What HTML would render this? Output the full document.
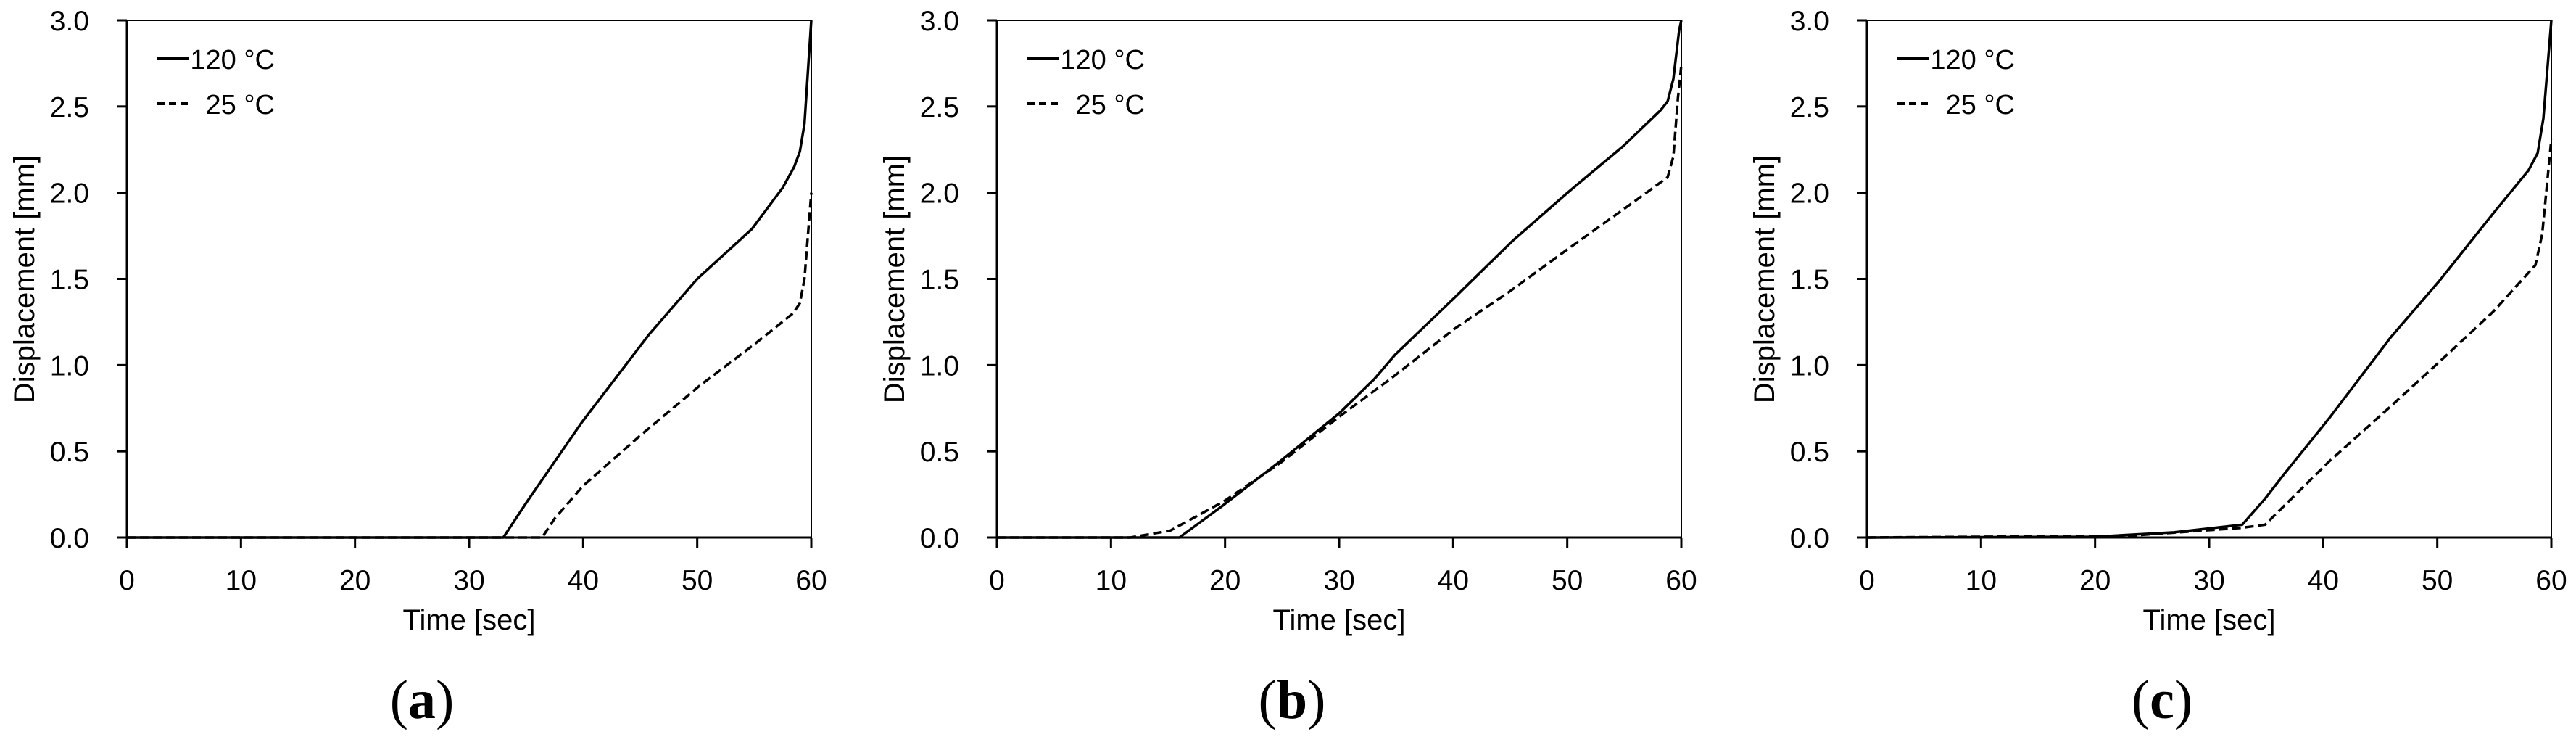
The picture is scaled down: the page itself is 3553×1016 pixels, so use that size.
<!DOCTYPE html>
<html><head><meta charset="utf-8">
<style>
html,body{margin:0;padding:0;background:#fff;}
svg{display:block;}
text{font-family:"Liberation Sans",Arial,sans-serif;fill:#000;}
.cap{font-family:"Liberation Serif","Times New Roman",serif;}
</style></head>
<body>
<svg id="fig" width="3553" height="1016" viewBox="0 0 3553 1016" xmlns="http://www.w3.org/2000/svg"></svg>
<script>
// ---- data ----
const xTicks = [0,10,20,30,40,50,60];
const yTicks = [0.0,0.5,1.0,1.5,2.0,2.5,3.0];
const panelLabels = ["a","b","c"];
const seriesNames = ["120 \u00B0C","25 \u00B0C"];
// panel (a)
const a120T = [0,33,35.1,39.9,45.8,50,54.8,57.5,58.5,59.0,59.4,59.7,60];
const a120V = [0,0,0.21,0.67,1.18,1.5,1.79,2.03,2.15,2.24,2.4,2.7,3.0];
const a25T  = [0,36.4,37.5,40,44.8,50.2,55,58.4,59.0,59.4,59.7,60];
const a25V  = [0,0,0.11,0.30,0.58,0.88,1.12,1.30,1.36,1.5,1.75,2.0];
// panel (b)
const b120T = [0,16,19.9,24.6,30,33.1,34.9,40.1,45.2,50.2,54.9,58.2,58.8,59.3,59.8,60];
const b120V = [0,0,0.19,0.43,0.72,0.92,1.06,1.39,1.72,2.01,2.27,2.48,2.53,2.66,2.94,3.0];
const b25T  = [0,11.7,15.2,19.9,25,30,34.7,40.1,44.8,50.2,55.7,58.8,59.3,59.7,60];
const b25V  = [0,0,0.04,0.21,0.44,0.70,0.93,1.21,1.42,1.68,1.94,2.09,2.21,2.55,2.74];
// panel (c)
const c120T = [0,19.9,26.9,32.9,34.9,36.6,40.5,45.9,50.2,54.9,58,58.8,59.3,60];
const c120V = [0,0.004,0.03,0.074,0.225,0.37,0.69,1.16,1.49,1.88,2.13,2.23,2.43,3.0];
const c25T  = [0,23,32.7,34.9,40.5,45.9,50.2,54.9,58.6,59.2,60];
const c25V  = [0,0.01,0.055,0.074,0.44,0.76,1.02,1.31,1.58,1.76,2.31];

const panels = [
  {x0:175, s120:[a120T,a120V], s25:[a25T,a25V]},
  {x0:1375, s120:[b120T,b120V], s25:[b25T,b25V]},
  {x0:2575, s120:[c120T,c120V], s25:[c25T,c25V]}
];
const NS="http://www.w3.org/2000/svg";
const svg=document.getElementById('fig');
const Y0=741, YT=28, W=944;
function mk(tag,attrs,parent){const e=document.createElementNS(NS,tag);for(const k in attrs)e.setAttribute(k,attrs[k]);(parent||svg).appendChild(e);return e;}

panels.forEach((p,pi)=>{
  const g=mk('g',{});
  
  
  const sx=t=>p.x0+t/60*W;
  const sy=v=>Y0-v/3*(Y0-YT);
  const fr=mk('rect',{x:p.x0,y:YT,width:W,height:Y0-YT,fill:'none',stroke:'#000','stroke-width':2},g);
  
  
  const xa=mk('line',{x1:p.x0-14,y1:Y0,x2:p.x0+W,y2:Y0,stroke:'#000','stroke-width':3},g);
  
  
  const ya=mk('line',{x1:p.x0,y1:YT,x2:p.x0,y2:Y0+14,stroke:'#000','stroke-width':3},g);
  
  
  xTicks.forEach(t=>{
    const tk=mk('line',{x1:sx(t),y1:Y0,x2:sx(t),y2:Y0+14,stroke:'#000','stroke-width':3},g);
    
    
    const tl=mk('text',{x:sx(t),y:813,'text-anchor':'middle','font-size':39},g);
    tl.textContent=t;
    
    
  });
  yTicks.forEach(v=>{
    const tk=mk('line',{x1:p.x0-14,y1:sy(v),x2:p.x0,y2:sy(v),stroke:'#000','stroke-width':3},g);
    
    
    const tl=mk('text',{x:p.x0-52,y:sy(v)+14,'text-anchor':'end','font-size':39},g);
    tl.textContent=v.toFixed(1);
    
    
  });
  const xt=mk('text',{x:p.x0+W/2,y:868,'text-anchor':'middle','font-size':40},g);
  xt.textContent='Time [sec]';
  
  
  const yt=mk('text',{x:0,y:0,'text-anchor':'middle','font-size':40,transform:`translate(${p.x0-128},385) rotate(-90)`},g);
  yt.textContent='Displacement [mm]';
  
  
  const path=(s)=>s[0].map((t,i)=>(i?'L':'M')+sx(t).toFixed(1)+' '+sy(s[1][i]).toFixed(1)).join(' ');
  const l1=mk('path',{d:path(p.s120),fill:'none',stroke:'#000','stroke-width':3.5,'stroke-linejoin':'round'},g);
  
  
  const l2=mk('path',{d:path(p.s25),fill:'none',stroke:'#000','stroke-width':3.5,'stroke-dasharray':'12 6'},g);
  
  
  const lg=mk('g',{},g);
  
  
  const e1=mk('line',{x1:p.x0+42,y1:81,x2:p.x0+86,y2:81,stroke:'#000','stroke-width':4},lg);
  
  
  const t1=mk('text',{x:p.x0+204,y:95,'text-anchor':'end','font-size':38},lg);
  t1.textContent=seriesNames[0];
  
  
  const e2=mk('line',{x1:p.x0+42,y1:143,x2:p.x0+86,y2:143,stroke:'#000','stroke-width':4,'stroke-dasharray':'10 6'},lg);
  
  
  const t2=mk('text',{x:p.x0+204,y:157,'text-anchor':'end','font-size':38},lg);
  t2.textContent=seriesNames[1];
  
  
  const cp=mk('text',{x:p.x0+407,y:990,'text-anchor':'middle','font-size':76,'class':'cap'},g);
  cp.innerHTML='(<tspan font-weight="bold">'+panelLabels[pi]+'</tspan>)';
  
  
});
</script>
</body></html>
